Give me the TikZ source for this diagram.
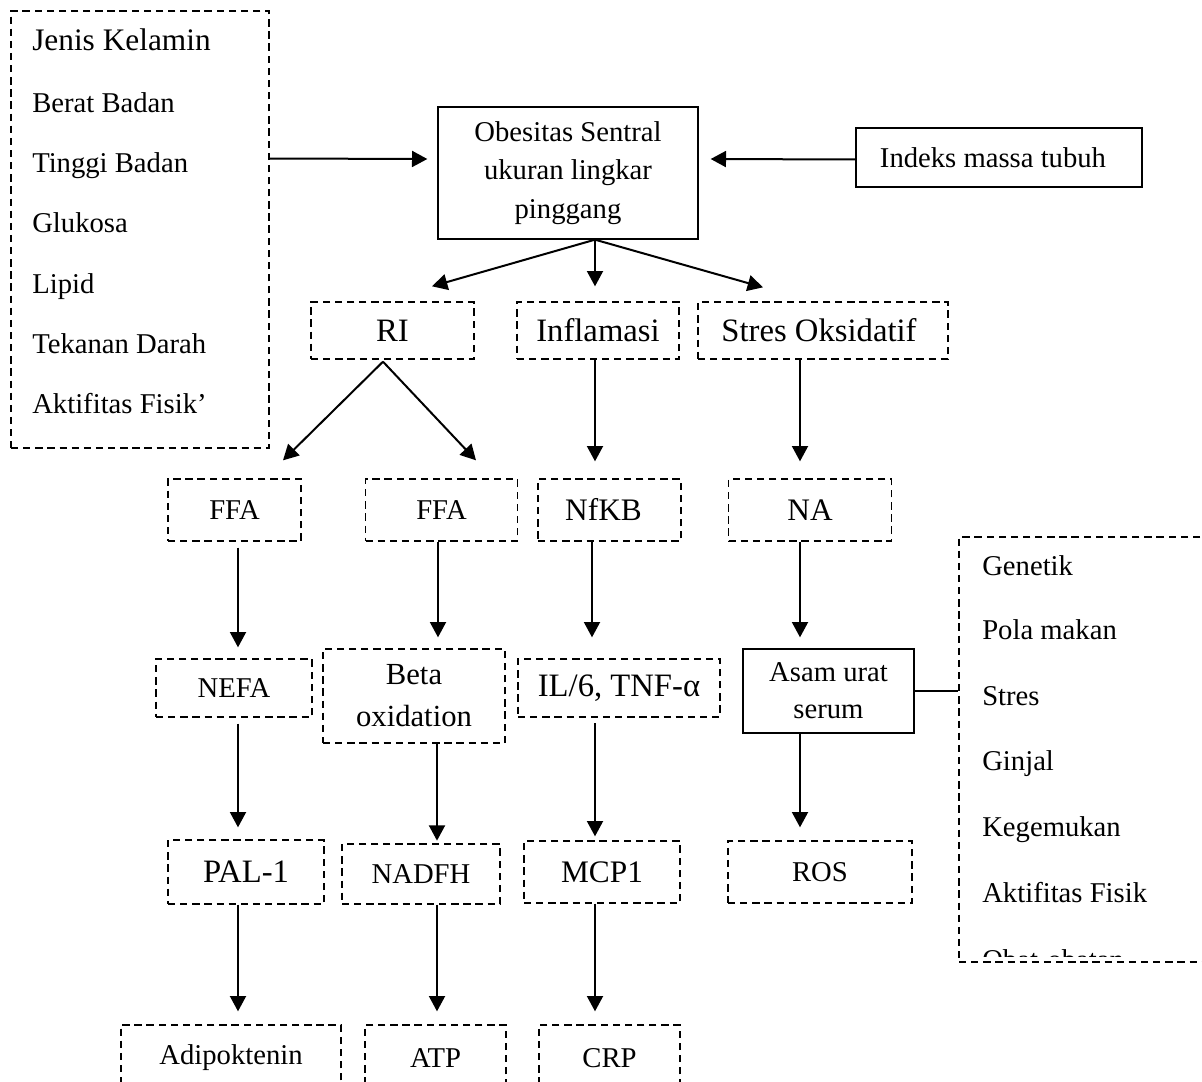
\documentclass[tikz,border=0pt]{standalone}
\usepackage{fontspec}
\setmainfont{Liberation Serif}
\usetikzlibrary{arrows.meta,calc}
\begin{document}
\begin{tikzpicture}[x=0.75pt,y=-0.75pt,
  dbox/.style={draw, dash pattern=on 5.5pt off 3.6pt, line width=1pt, inner sep=0pt, align=center},
  sbox/.style={draw, line width=1pt, inner sep=0pt, align=center},
  arr/.style={line width=1.5pt, -{Triangle[length=11.5pt,width=12pt]}},
  conn/.style={line width=1.1pt},
  lst/.style={anchor=base west, inner sep=0pt, font=\fontsize{21.5}{26}\selectfont},
  fbig/.style={font=\fontsize{24.5}{29}\selectfont},
  fmid/.style={font=\fontsize{23.5}{28}\selectfont},
  fsm/.style={font=\fontsize{21.5}{26}\selectfont}]
\useasboundingbox (0,0) rectangle (1202,1081);
\clip (0,0) rectangle (1202,1081);

% left list box
\node[dbox, minimum width=193.5pt, minimum height=327.75pt] (lbox) at (140,229.5) {};
\node[lst, font=\fontsize{23.5}{28}\selectfont] (l1) at (32,51) {Jenis Kelamin};
\node[lst] (l2) at (32,112) {Berat Badan};
\node[lst] (l3) at (32,172) {Tinggi Badan};
\node[lst] (l4) at (32,232) {Glukosa};
\node[lst] (l5) at (32,293) {Lipid};
\node[lst] (l6) at (32,353) {Tekanan Darah};
\node[lst] (l7) at (32,413) {Aktifitas Fisik’};

% central box
\node[sbox, minimum width=195pt, minimum height=99pt, font=\fontsize{21.5}{29}\selectfont] (ob) at (568,173) {Obesitas Sentral\\ukuran lingkar\\pinggang};
\node[sbox, minimum width=214.5pt, minimum height=44.25pt, fsm] (idx) at (999,157.5) {Indeks massa tubuh\hspace*{9pt}};

% row 2
\node[dbox, minimum width=122.25pt, minimum height=42.75pt, fbig] (ri) at (392.5,330.5) {RI};
\node[dbox, minimum width=121.5pt, minimum height=42.75pt, fbig] (inf) at (598,330.5) {Inflamasi};
\node[dbox, minimum width=187.5pt, minimum height=42.75pt, fbig] (stres) at (823,330.5) {Stres Oksidatif\hspace*{6pt}};

% row 3
\node[dbox, minimum width=99.75pt, minimum height=46.5pt, fsm] (ffa1) at (234.5,510) {FFA};
\node[dbox, minimum width=114pt, minimum height=46.5pt, fsm] (ffa2) at (441.5,510) {FFA};
\node[dbox, minimum width=107.25pt, minimum height=46.5pt, fmid] (nfkb) at (609.5,510) {NfKB\hspace*{9pt}};
\node[dbox, minimum width=122pt, minimum height=46.5pt, fmid] (na) at (810,510) {NA};

% row 4
\node[dbox, minimum width=117pt, minimum height=43.5pt, fsm] (nefa) at (234,688) {NEFA};
\node[dbox, minimum width=136.5pt, minimum height=70.5pt, font=\fontsize{23}{31.5}\selectfont] (beta) at (414,696) {Beta\\oxidation};
\node[dbox, minimum width=151.5pt, minimum height=43.5pt, fbig] (il6) at (619,688) {IL/6, TNF-α};
\node[sbox, minimum width=128.25pt, minimum height=63pt, font=\fontsize{21.5}{28}\selectfont] (asam) at (828.5,691) {Asam urat\\serum};

% row 5
\node[dbox, minimum width=117pt, minimum height=48pt, fbig] (pal) at (246,872) {PAL-1};
\node[dbox, minimum width=118.5pt, minimum height=45pt, fsm] (nadfh) at (421,874) {NADFH};
\node[dbox, minimum width=117pt, minimum height=46.5pt, fmid] (mcp) at (602,872) {MCP1};
\node[dbox, minimum width=138pt, minimum height=46.5pt, fsm] (ros) at (820,872) {ROS};

% row 6
\node[dbox, minimum width=165pt, minimum height=49.5pt, fsm] (adipo) at (231,1058) {Adipoktenin};
\node[dbox, minimum width=105.75pt, minimum height=49.5pt, fsm] (atp) at (435.5,1058) {ATP};
\node[dbox, minimum width=105.75pt, minimum height=49.5pt, fsm] (crp) at (609.5,1058) {CRP};

% right list box
\node[dbox, minimum width=199.5pt, minimum height=318.75pt] (rbox) at (1092,749.5) {};
\node[lst] (r1) at (982,575) {Genetik};
\node[lst] (r2) at (982,639) {Pola makan};
\node[lst] (r3) at (982,705) {Stres};
\node[lst] (r4) at (982,770) {Ginjal};
\node[lst] (r5) at (982,836) {Kegemukan};
\node[lst] (r6) at (982,902) {Aktifitas Fisik};
\begin{scope}
\clip (959,537) rectangle (1202,956);
\node[lst] (r7) at (982,969) {Obat-obatan};
\end{scope}

% horizontal arrows into central box
\draw[arr] ($(lbox.east)+(0,-71)$) -- ($(ob.west)+(-10,-14)$);
\draw[arr] ($(idx.west)+(0,2)$) -- ($(ob.east)+(12,-14)$);

% fan from central box
\draw[arr] ($(ob.south)+(27,0)$) -- ($(ri.north)+(39.5,-15)$);
\draw[arr] ($(ob.south)+(27,0)$) -- ($(inf.north)+(-3,-15)$);
\draw[arr] ($(ob.south)+(27,0)$) -- ($(stres.north)+(-60,-14)$);

% fan from RI
\draw[arr] ($(ri.south)+(-9.5,2)$) -- ($(ffa1.north)+(48.5,-18)$);
\draw[arr] ($(ri.south)+(-9.5,2)$) -- ($(ffa2.north)+(34.5,-18)$);

% vertical arrows
\draw[arr, shorten >=12.75pt] (inf.south -| 595,0) -- (nfkb.north -| 595,0);
\draw[arr, shorten >=12.75pt] (stres.south -| 800,0) -- (na.north -| 800,0);
\draw[arr, shorten <=4.5pt, shorten >=8.25pt] (ffa1.south -| 238,0) -- (nefa.north -| 238,0);
\draw[arr, shorten >=8.25pt] (ffa2.south -| 438,0) -- (beta.north -| 438,0);
\draw[arr, shorten >=15.75pt] (nfkb.south -| 592,0) -- (il6.north -| 592,0);
\draw[arr, shorten >=8.25pt] (na.south -| 800,0) -- (asam.north -| 800,0);
\draw[arr, shorten <=4.5pt, shorten >=9pt] (nefa.south -| 238,0) -- (pal.north -| 238,0);
\draw[arr, shorten >=2pt] (beta.south -| 437,0) -- (nadfh.north -| 437,0);
\draw[arr, shorten <=4pt, shorten >=3pt] (il6.south -| 595,0) -- (mcp.north -| 595,0);
\draw[arr, shorten >=9.75pt] (asam.south -| 800,0) -- (ros.north -| 800,0);
\draw[arr, shorten >=9.75pt] (pal.south -| 238,0) -- (adipo.north -| 238,0);
\draw[arr, shorten >=9.75pt] (nadfh.south -| 437,0) -- (atp.north -| 437,0);
\draw[arr, shorten >=9.75pt] (mcp.south -| 595,0) -- (crp.north -| 595,0);

% connector to right box
\draw[conn] (asam.east) -- (asam.east -| rbox.west);
\end{tikzpicture}
\end{document}
